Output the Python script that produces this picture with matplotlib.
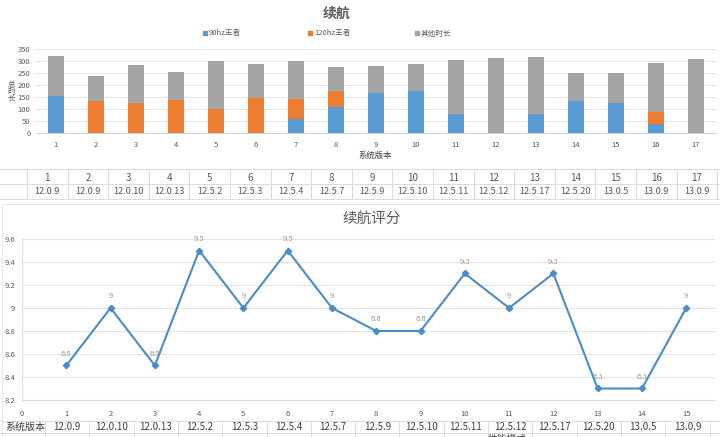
import numpy as np
import matplotlib
matplotlib.use("Agg")
import matplotlib.pyplot as plt
from matplotlib.lines import Line2D
from matplotlib.patches import Rectangle

plt.rcParams['font.family'] = ['Noto Sans CJK SC', 'DejaVu Sans']

# top chart data: battery time per version (minutes)
idx_top = list(range(1, 18))
versions_top = ['12.0.9', '12.0.9', '12.0.10', '12.0.13', '12.5.2', '12.5.3', '12.5.4',
                '12.5.7', '12.5.9', '12.5.10', '12.5.11', '12.5.12', '12.5.17',
                '12.5.20', '13.0.5', '13.0.9', '13.0.9']
hz90 = [155, 0, 0, 0, 0, 0, 60, 107, 167, 173, 80, 0, 78, 135, 125, 39, 0]
hz120 = [0, 132, 123, 139, 100, 144, 82, 68, 0, 0, 0, 0, 0, 0, 0, 49, 0]
total = [322, 239, 285, 256, 301, 289, 299, 276, 281, 288, 306, 313, 315, 251, 251, 292, 310]
series_names = ['90hz王者', '120hz王者', '其他时长']

# bottom chart data: battery score
idx_bot = list(range(1, 16))
versions_bot = ['12.0.9', '12.0.10', '12.0.13', '12.5.2', '12.5.3', '12.5.4', '12.5.7',
                '12.5.9', '12.5.10', '12.5.11', '12.5.12', '12.5.17', '12.5.20',
                '13.0.5', '13.0.9']
scores = [8.5, 9, 8.5, 9.5, 9, 9.5, 9, 8.8, 8.8, 9.3, 9, 9.3, 8.3, 8.3, 9]

W, H = 720, 437
BLUE, ORANGE, GRAY = '#5B9BD5', '#ED7D31', '#A5A5A5'
TXT = '#595959'
GRID = '#E3E3E3'

fig = plt.figure(figsize=(W / 100, H / 100), dpi=100)
fig.patch.set_facecolor('white')


def fx(x):
    return x / W


def fy(y):
    return 1 - y / H


def hline(y, x0=0, x1=W, c='#DADADA', lw=0.7):
    fig.add_artist(Line2D([fx(x0), fx(x1)], [fy(y), fy(y)], color=c, lw=lw))


def vline(x, y0, y1, c='#DADADA', lw=0.7):
    fig.add_artist(Line2D([fx(x), fx(x)], [fy(y0), fy(y1)], color=c, lw=lw))


# ---------- top stacked bar chart ----------
ax1 = fig.add_axes([fx(36), fy(133), fx(716) - fx(36), fy(49) - fy(133)])
other = np.array(total) - np.array(hz90) - np.array(hz120)
ax1.bar(idx_top, hz90, width=0.4, color=BLUE, label=series_names[0])
ax1.bar(idx_top, hz120, width=0.4, bottom=hz90, color=ORANGE, label=series_names[1])
ax1.bar(idx_top, other, width=0.4, bottom=np.array(hz90) + np.array(hz120),
        color=GRAY, label=series_names[2])
ax1.set_xlim(0.5, 17.5)
ax1.set_ylim(0, 350)
ax1.set_yticks(range(0, 351, 50))
ax1.set_xticks(idx_top)
ax1.tick_params(length=0, labelsize=5.5, labelcolor=TXT, pad=4)
ax1.tick_params(axis='x', pad=6)
ax1.grid(axis='y', color=GRID, lw=0.7)
ax1.set_axisbelow(True)
for s in ['top', 'right', 'left']:
    ax1.spines[s].set_visible(False)
ax1.spines['bottom'].set_color('#D0D0D0')
ax1.spines['bottom'].set_linewidth(0.7)
fig.text(fx(375), fy(155), '系统版本', fontsize=6, color='#404040', ha='center', va='center')
for ch, yy in zip('总时长', [85, 92, 99]):
    fig.text(fx(11), fy(yy), ch, fontsize=5.5, color=TXT, ha='center', va='center')
fig.text(fx(337), fy(14), '续航', fontsize=10, fontweight='bold', color=TXT,
         ha='center', va='center')
for xpos, name, col in zip([205, 310, 417], series_names, [BLUE, ORANGE, GRAY]):
    fig.add_artist(Rectangle((fx(xpos - 2), fy(35)), fx(4), 4 / H, color=col))
    fig.text(fx(xpos + 4), fy(33.5), name, fontsize=5.5, color=TXT, va='center')

# top data table
hline(169)
hline(184)
hline(199)
col_w = 40.6
for k in range(18):
    vline(27 + col_w * k, 169, 199)
for k, (i, v) in enumerate(zip(idx_top, versions_top)):
    cx = 27 + col_w * (k + 0.5)
    fig.text(fx(cx), fy(178), str(i), fontsize=7, color=TXT, ha='center', va='center')
    fig.text(fx(cx), fy(191.5), v, fontsize=6.6, color=TXT, ha='center', va='center')

# lower frame edges
hline(204, 2, W, c='#E6E6E6')
vline(2, 204, H, c='#E6E6E6')

# ---------- bottom line chart ----------
ax2 = fig.add_axes([fx(22), fy(400), fx(715) - fx(22), fy(239) - fy(400)])
ax2.plot(idx_bot, scores, color='#4A8CCB', lw=1.5, marker='D', ms=3.2,
         markerfacecolor='#4A8CCB', markeredgecolor='#4A8CCB')
for x, y in zip(idx_bot, scores):
    ax2.annotate(f'{y:g}', (x, y), xytext=(0, 5.5), textcoords='offset points',
                 ha='center', va='bottom', fontsize=4.8, color='#8C8C8C',
                 family=['DejaVu Serif'])
ax2.set_xlim(0, 15.65)
ax2.set_ylim(8.2, 9.6)
ax2.set_yticks(np.arange(8.2, 9.61, 0.2))
ax2.set_yticklabels([f'{v:g}' for v in np.round(np.arange(8.2, 9.61, 0.2), 1)])
ax2.set_xticks(range(0, 16))
ax2.tick_params(length=0, labelsize=5.5, labelcolor=TXT)
ax2.tick_params(axis='x', pad=7)
ax2.tick_params(axis='y', pad=5)
ax2.grid(axis='y', color=GRID, lw=0.8)
ax2.set_axisbelow(True)
for s in ['top', 'right']:
    ax2.spines[s].set_visible(False)
ax2.spines['left'].set_color('#D9D9D9')
ax2.spines['bottom'].set_color('#D9D9D9')
ax2.spines['left'].set_linewidth(0.7)
ax2.spines['bottom'].set_linewidth(0.7)
fig.text(fx(372), fy(219), '续航评分', fontsize=10.5, color=TXT, ha='center', va='center')

# bottom data table
hline(420.5)
hline(433)
col_w2 = 44.3
for k in range(16):
    vline(45 + col_w2 * k, 420.5, H)
fig.text(fx(5), fy(426.5), '系统版本', fontsize=7.2, color='#404040', ha='left', va='center')
for k, v in enumerate(versions_bot):
    fig.text(fx(45 + col_w2 * (k + 0.5)), fy(426.5), v, fontsize=7, color='#404040',
             ha='center', va='center')
fig.text(fx(507), fy(439), '性能模式', fontsize=7, color='#404040', ha='center', va='center')

fig.savefig('out.png', dpi=100, facecolor='white')
